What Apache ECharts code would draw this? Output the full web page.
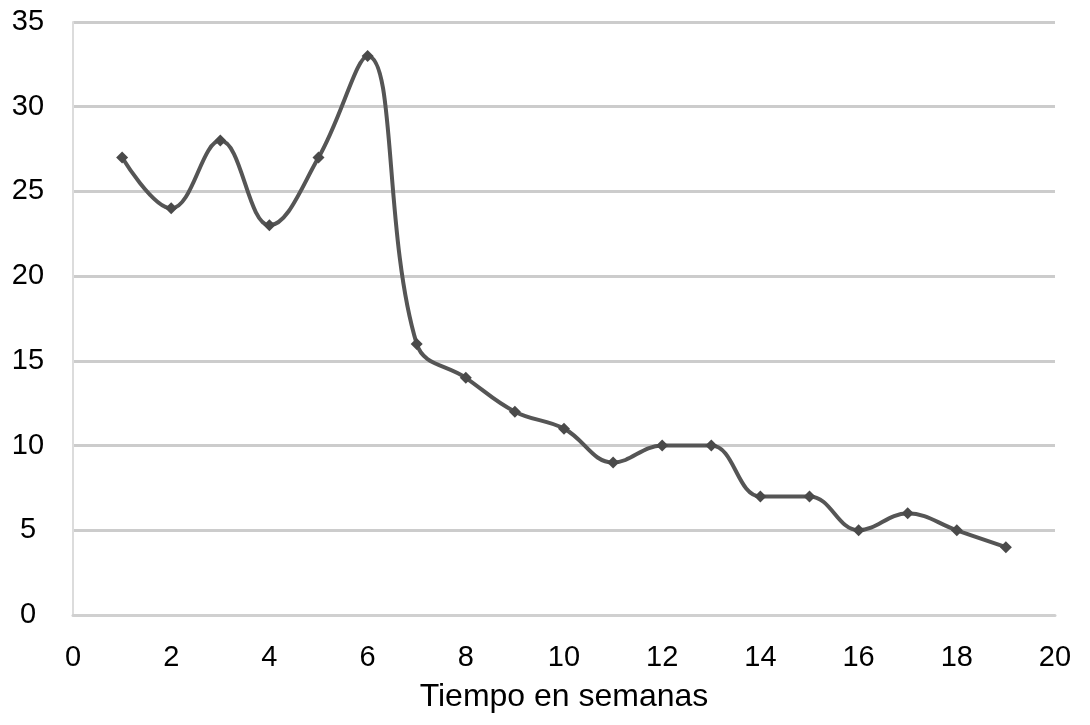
<!DOCTYPE html>
<html>
<head>
<meta charset="utf-8">
<script src="https://cdn.jsdelivr.net/npm/echarts@6/dist/echarts.min.js"></script>
<style>
  html, body { margin: 0; padding: 0; background: #fff; }
  #chart { width: 1090px; height: 725px; }
</style>
</head>
<body>
<div id="chart"></div>
<script>
// semanas (eje x) y valores
const weeks = [1, 2, 3, 4, 5, 6, 7, 8, 9, 10, 11, 12, 13, 14, 15, 16, 17, 18, 19]
const values = [27, 24, 28, 23, 27, 33, 16, 14, 12, 11, 9, 10, 10, 7, 7, 5, 6, 5, 4]
const xTitle = 'Tiempo en semanas'

const chart = echarts.init(document.getElementById('chart'))
const textStyle = { fontFamily: 'Liberation Sans, Arial, sans-serif', fontSize: 29, color: '#000' }

chart.setOption({
  animation: false,
  grid: { left: 73, right: 35, top: 22, bottom: 110, containLabel: false },
  xAxis: {
    type: 'value',
    min: 0,
    max: 20,
    interval: 2,
    name: xTitle,
    nameLocation: 'middle',
    nameGap: 66,
    nameTextStyle: Object.assign({}, textStyle, { fontSize: 32 }),
    axisLine: { show: true, lineStyle: { color: '#d0d0d0', width: 3 } },
    axisTick: { show: false },
    axisLabel: Object.assign({ margin: 28 }, textStyle),
    splitLine: { show: false }
  },
  yAxis: {
    type: 'value',
    min: 0,
    max: 35,
    interval: 5,
    axisLine: { show: true, lineStyle: { color: '#dcdcdc', width: 2 } },
    axisTick: { show: false },
    axisLabel: Object.assign({ margin: 45, align: 'center' }, textStyle),
    splitLine: { show: true, lineStyle: { color: '#cccccc', width: 3 } }
  },
  series: [{
    type: 'line',
    data: weeks.map((w, i) => [w, values[i]]),
    smooth: 0.4,
    symbol: 'diamond',
    symbolSize: 12,
    lineStyle: { color: '#555555', width: 4 },
    itemStyle: { color: '#4a4a4a' }
  }]
})
</script>
</body>
</html>
